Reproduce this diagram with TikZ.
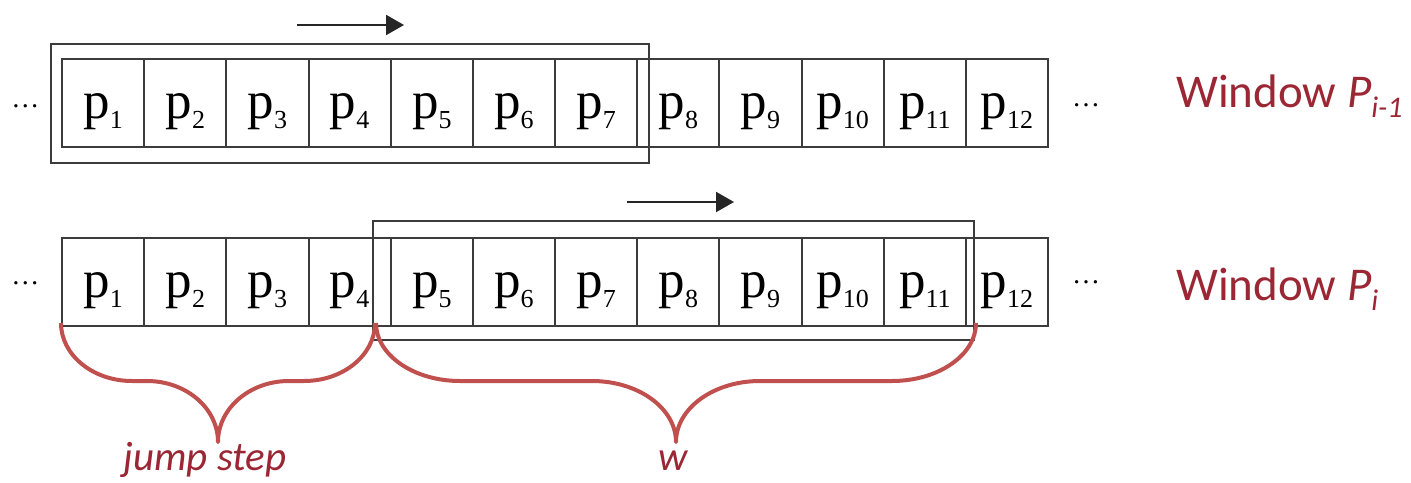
\documentclass[tikz,border=0pt]{standalone}
\usepackage{fontspec}
\setmainfont{Liberation Serif}
\newfontfamily\calfont{Carlito}
\usetikzlibrary{arrows.meta}
\definecolor{linegray}{RGB}{60,60,60}
\definecolor{bracered}{RGB}{192,80,77}
\definecolor{labred}{RGB}{155,38,52}
\newcommand\psub[1]{\raisebox{-10pt}{\fontsize{26}{26}\selectfont #1}}
\newcommand\lsub[1]{\raisebox{-10pt}{\fontsize{30}{30}\selectfont\itshape #1}}
\newcommand\curly[3]{%
  \pgfmathsetmacro\xm{(#1+#2)/2}%
  \draw[brace] (#1,323) .. controls (#1,355) and ({#1+0.448*#3},381) .. ({#1+#3},381)
    -- ({\xm-#3},381) .. controls ({\xm-0.448*#3},381) and (\xm,408.3) .. (\xm,442)
    .. controls (\xm,408.3) and ({\xm+0.448*#3},381) .. ({\xm+#3},381)
    -- ({#2-#3},381) .. controls ({#2-0.448*#3},381) and (#2,355) .. (#2,323);}
\begin{document}
\begin{tikzpicture}[x=1pt,y=-1pt,
  cell/.style={draw=linegray, line width=2pt, minimum width=82.17pt, minimum height=88pt,
    inner sep=0pt, text height=59pt, text depth=29pt, font=\fontsize{53}{53}\selectfont},
  win/.style={draw=linegray, line width=2pt, inner sep=0pt},
  mv/.style={draw=black!85, line width=2pt, -{Triangle[length=18pt,width=20pt]}},
  brace/.style={draw=bracered, line width=4pt, line cap=butt, line join=round},
  lab/.style={text=labred, font=\calfont\fontsize{47}{47}\selectfont, inner sep=0pt},
  blab/.style={text=labred, font=\calfont\itshape\fontsize{41}{41}\selectfont, inner sep=0pt},
  dots/.style={font=\fontsize{28}{28}\selectfont, inner sep=0pt, anchor=base}]
\useasboundingbox (0,0) rectangle (1411,482);
% top row
\foreach \k in {1,...,12}{
  \node[cell] (t\k) at ({62+82.17*(\k-0.5)},103) {p\psub{\k}};
}
\node[win, minimum width=598pt, minimum height=119pt] (wt) at (350,103.5) {};
% bottom row
\foreach \k in {1,...,12}{
  \node[cell] (b\k) at ({62+82.17*(\k-0.5)},282) {p\psub{\k}};
}
\node[win, minimum width=601pt, minimum height=119pt] (wb) at (673.5,280.5) {};
% dots
\node[dots] (dtl) at (25.5,107) {…};
\node[dots] (dtr) at (1086,106) {…};
\node[dots] (dbl) at (25.5,284) {…};
\node[dots] (dbr) at (1086,283) {…};
% arrows
\coordinate (a1s) at (297,25);
\coordinate (a1e) at (404,25);
\coordinate (a2s) at (627,202);
\coordinate (a2e) at (734,202);
\draw[mv] (a1s) -- (a1e);
\draw[mv] (a2s) -- (a2e);
% labels
\node[lab, anchor=base west] (l1) at (1176,107) {Window \textit{P}\lsub{i-1}};
\node[lab, anchor=base west] (l2) at (1176,300) {Window \textit{P}\lsub{i}};
% braces
\curly{61}{375}{71}
\curly{376}{976}{84}
\node[blab, anchor=base] (js) at (205,470) {jump step};
\node[blab, anchor=base] (ww) at (673,470) {w};
\end{tikzpicture}
\end{document}
